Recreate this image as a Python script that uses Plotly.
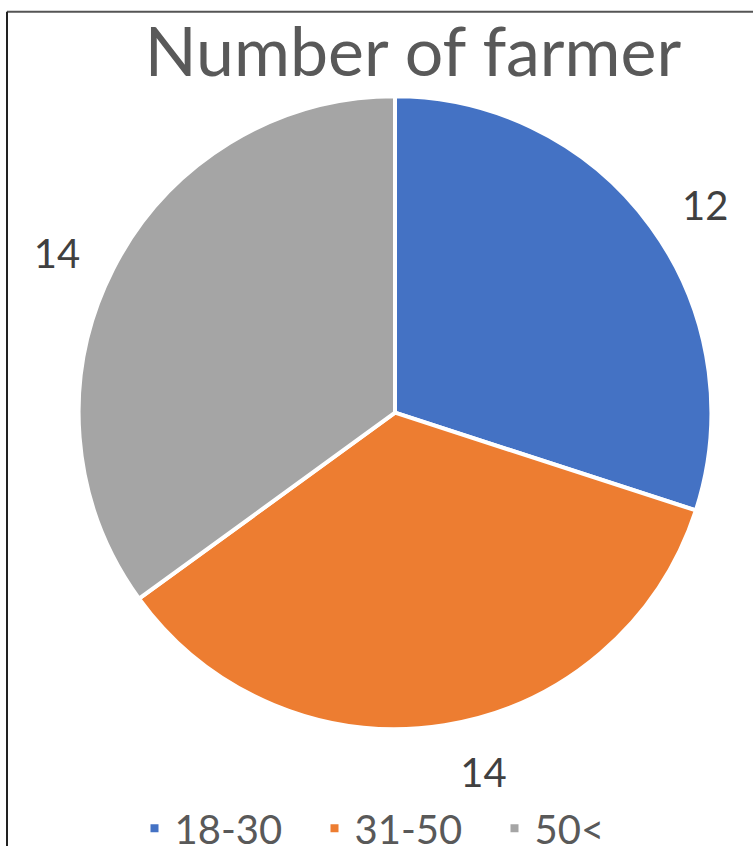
import plotly.graph_objects as go

categories = ["18-30", "31-50", "50<"]
values = [12, 14, 14]
colors = ["#4472C4", "#ED7D31", "#A5A5A5"]
title_text = "Number of farmer"

W, H = 753, 861
CX, CY, R = 395, 420, 322      # pie centre / radius in px
RL = R + 24                    # radius of the (invisible) label ring


def dom(r):
    return dict(x=[(CX - r) / W, (CX + r) / W],
                y=[(H - CY - r) / H, (H - CY + r) / H])


fig = go.Figure()
# invisible slightly larger pie that only carries the outside value labels
fig.add_trace(go.Pie(
    labels=categories,
    values=values,
    sort=False,
    direction="clockwise",
    rotation=0,
    marker=dict(colors=["rgba(0,0,0,0)"] * len(values), line=dict(width=0)),
    textinfo="value",
    textposition="outside",
    textfont=dict(family="Lato", size=40, color="#404040"),
    domain=dom(RL),
    showlegend=False,
    hoverinfo="skip",
))
# visible pie
fig.add_trace(go.Pie(
    labels=categories,
    values=values,
    sort=False,
    direction="clockwise",
    rotation=0,
    marker=dict(colors=colors, line=dict(color="white", width=4)),
    textinfo="none",
    domain=dom(R),
    hoverinfo="label+value",
))

fig.update_layout(
    width=W, height=H,
    margin=dict(l=0, r=0, t=0, b=0),
    paper_bgcolor="white",
    plot_bgcolor="white",
    title=dict(text=title_text, x=413 / W, xanchor="center",
               y=1 - 52 / H, yanchor="middle",
               font=dict(family="Lato", size=68, color="#595959")),
    showlegend=True,
    legend=dict(orientation="h", x=0.5 + 28 / W, xanchor="center",
                y=1 - 843 / H, yanchor="middle",
                font=dict(family="Lato", size=40, color="#595959"),
                itemwidth=30, entrywidth=135, traceorder="normal"),
    shapes=[
        dict(type="line", xref="paper", yref="paper", x0=7 / W, x1=1, y0=1 - 12 / H, y1=1 - 12 / H,
             line=dict(color="#555555", width=2)),
        dict(type="line", xref="paper", yref="paper", x0=7 / W, x1=7 / W, y0=0, y1=1 - 12 / H,
             line=dict(color="#222222", width=2)),
    ],
)

fig.write_html("out.html")
